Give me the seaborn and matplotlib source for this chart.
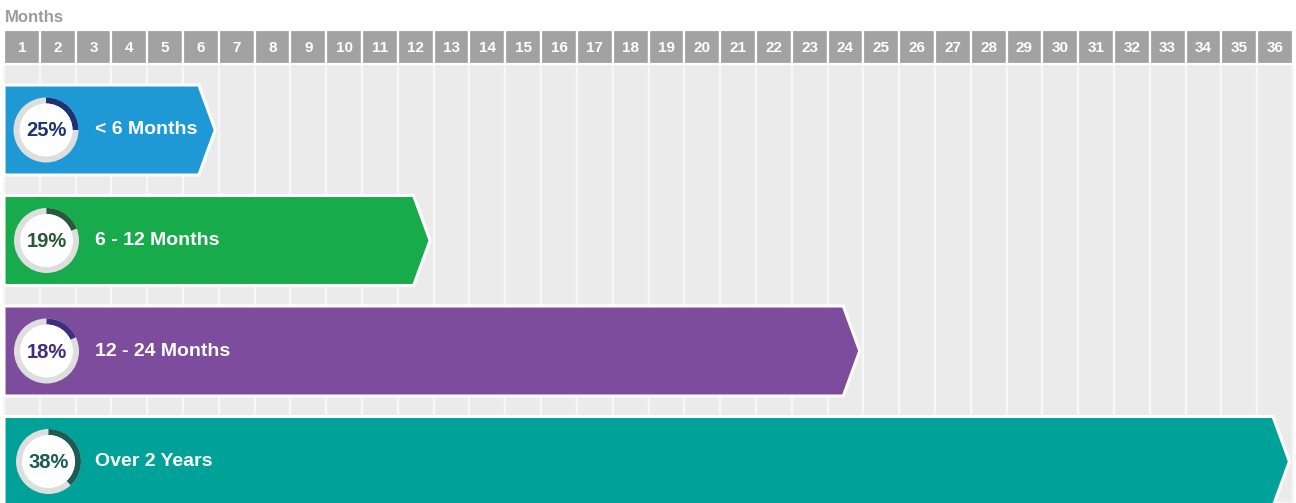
import numpy as np
import matplotlib
matplotlib.use("Agg")
import matplotlib.pyplot as plt
from matplotlib.patches import Polygon, Wedge, Circle
import seaborn as sns

# ---- data ----
months = list(range(1, 37))
categories = ["< 6 Months", "6 - 12 Months", "12 - 24 Months", "Over 2 Years"]
start_months = [0, 0, 0, 0]
end_months = [6, 12, 24, 36]
percents = [25, 19, 18, 38]
bar_colors = ["#1f98d6", "#18ab4b", "#7d4c9d", "#00a199"]
dark_colors = ["#1b3475", "#275a3a", "#3f2d7e", "#1d5c55"]
title = "Months"

sns.set_theme(style="white")
plt.rcParams["font.family"] = ["Liberation Sans Narrow", "Liberation Sans", "DejaVu Sans"]

W, H = 1296, 503
fig = plt.figure(figsize=(W / 100, H / 100), dpi=100)
ax = fig.add_axes([0, 0, 1, 1])
px_per_month = (1293 - 4) / 36.0
xlim = (-4 / px_per_month, (W - 4) / px_per_month)

col_centers = np.array(months) - 0.5

# background columns
sns.barplot(x=col_centers, y=[H - 64] * len(months), native_scale=True, width=1,
            color="#ebebeb", edgecolor="#f7f7f7", linewidth=1.6, bottom=64,
            saturation=1, ax=ax, zorder=1)
# header cells
sns.barplot(x=col_centers, y=[34] * len(months), native_scale=True, width=1,
            color="#a2a2a2", edgecolor="white", linewidth=1.6, bottom=30,
            saturation=1, ax=ax, zorder=2)
for c, m in zip(col_centers, months):
    ax.text(c, 48, str(m), color="white", fontsize=11, fontweight="bold",
            ha="center", va="center", zorder=3)

ax.text(xlim[0] + 5 / px_per_month, 17, title, color="#9b9b9b", fontsize=12,
        fontweight="bold", ha="left", va="center", zorder=3)

# arrow bars
row_top = 85
row_step = 110.5
bar_h = 90
for i, (s, e, col) in enumerate(zip(start_months, end_months, bar_colors)):
    top = row_top + i * row_step
    bot = top + bar_h
    mid = (top + bot) / 2
    body = e - 0.56
    tip = e - 0.1
    poly = Polygon([(s, top), (body, top), (tip, mid), (body, bot), (s, bot)],
                   closed=True, facecolor=col, edgecolor="white", linewidth=2.2,
                   zorder=4, joinstyle="miter")
    ax.add_patch(poly)

ax.set_xlim(*xlim)
ax.set_ylim(H, 0)
ax.axis("off")

# overlay in pixel space for donuts and labels
ov = fig.add_axes([0, 0, 1, 1])
ov.set_xlim(0, W)
ov.set_ylim(H, 0)
ov.axis("off")
ov.patch.set_alpha(0)
centers_x = [46, 46.5, 46.5, 48.5]
for i, (cat, p, col, dk) in enumerate(zip(categories, percents, bar_colors, dark_colors)):
    top = row_top + i * row_step
    cy = top + bar_h / 2
    cx = centers_x[i]
    ov.add_patch(Circle((cx, cy), 32.5, facecolor="#dedede", edgecolor="none", zorder=5))
    ov.add_patch(Wedge((cx, cy), 32.5, 270, 270 + 360 * p / 100.0, width=6,
                       facecolor=dk, edgecolor="none", zorder=6))
    ov.add_patch(Circle((cx, cy), 26.5, facecolor="white", edgecolor="none", zorder=7))
    ov.text(cx, cy + 1, f"{p}%", color=dk, fontsize=14.5, fontweight="bold",
            ha="center", va="center", zorder=8)
    ov.text(95, cy, cat, color="white", fontsize=14, fontweight="bold",
            ha="left", va="center", zorder=8)

fig.savefig("out.png", dpi=100)
